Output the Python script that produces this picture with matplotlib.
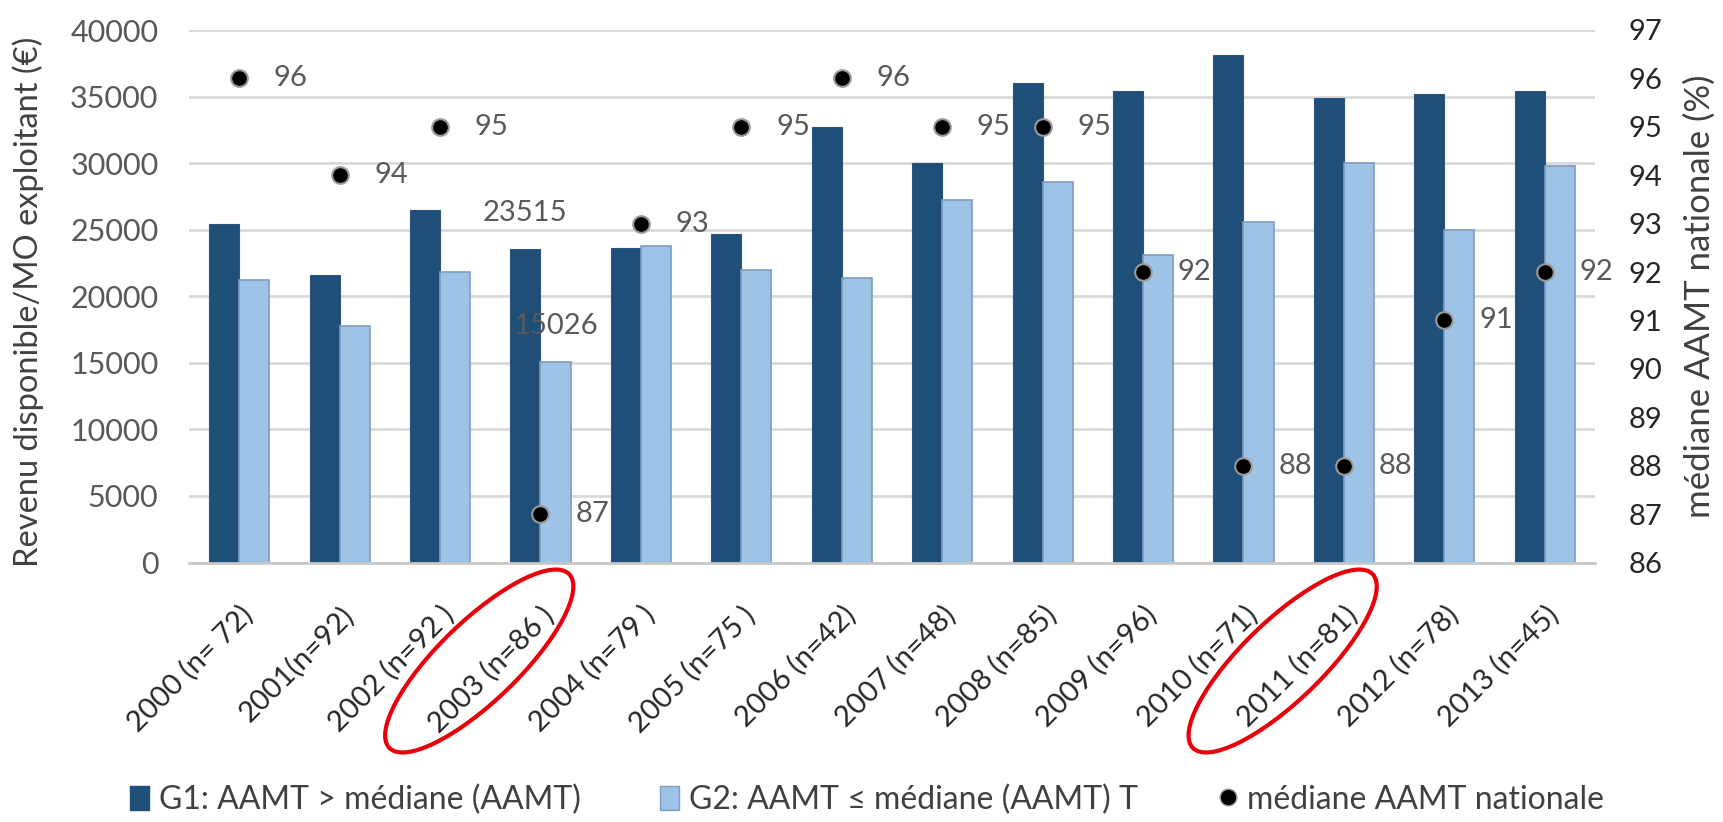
import matplotlib.pyplot as plt
from matplotlib.patches import Patch, Ellipse
from matplotlib.lines import Line2D
from matplotlib.transforms import IdentityTransform
import numpy as np

plt.rcParams['font.family'] = ['Lato', 'DejaVu Sans']

categories = ["2000 (n= 72)", "2001(n=92)", "2002 (n=92 )", "2003 (n=86 )",
              "2004 (n=79 )", "2005 (n=75 )", "2006 (n=42)", "2007 (n=48)",
              "2008 (n=85)", "2009 (n=96)", "2010 (n=71)", "2011 (n=81)",
              "2012 (n=78)", "2013 (n=45)"]
g1 = [25400, 21600, 26500, 23515, 23600, 24700, 32700, 30000,
      36000, 35400, 38100, 34900, 35200, 35400]
g2 = [21200, 17800, 21800, 15026, 23800, 22000, 21400, 27200,
      28600, 23100, 25600, 30000, 25000, 29800]
mediane = [96, 94, 95, 87, 93, 95, 96, 95, 95, 92, 88, 88, 91, 92]
labelled_year = 3          # only 2003 carries bar values
circled_years = [3, 11]

c_g1 = "#1F4E79"
c_g2 = "#9DC3E6"
grey_txt = "#595959"

fig = plt.figure(figsize=(17.24, 8.22), dpi=100)
ax = fig.add_axes([189 / 1724, 1 - 562.5 / 822, 1406 / 1724, 532.5 / 822])
ax2 = ax.twinx()

x = np.arange(len(categories))
w = 0.30
ax.bar(x - w / 2, g1, w, color=c_g1, edgecolor="#2A5580", linewidth=0.8, zorder=2)
ax.bar(x + w / 2, g2, w, color=c_g2, edgecolor="#7F9CBF", linewidth=1.2, zorder=2)

ax.annotate(str(g1[labelled_year]), (labelled_year - w / 2, g1[labelled_year]),
            xytext=(0, 26), textcoords="offset points", ha="center", va="center",
            fontsize=21, color=grey_txt)
ax.annotate(str(g2[labelled_year]), (labelled_year + w / 2, g2[labelled_year]),
            xytext=(0, 26), textcoords="offset points", ha="center", va="center",
            fontsize=21, color=grey_txt)

ax.set_xlim(-0.5, len(categories) - 0.5)
ax.set_ylim(0, 40000)
ax.set_yticks(range(0, 40001, 5000))
ax.yaxis.grid(True, color="#D9D9D9", linewidth=2, zorder=0)
ax.set_axisbelow(True)
for s in ["top", "left", "right"]:
    ax.spines[s].set_visible(False)
    ax2.spines[s].set_visible(False)
ax.spines["bottom"].set_color("#C8C8C8")
ax.spines["bottom"].set_linewidth(2)
ax2.spines["bottom"].set_visible(False)

ax.tick_params(axis="y", length=0, pad=22, labelsize=22, labelcolor=grey_txt)
ax.tick_params(axis="x", length=0, pad=28, labelsize=21, labelcolor="#262626")
ax.set_xticks(x)
ax.set_xticklabels(categories, rotation=45, ha="right", va="top",
                   rotation_mode="anchor")

ax.set_ylabel("Revenu disponible/MO exploitant (€)", fontsize=23.5, color="#404040")
ax.yaxis.label.set_va("center")
ax.yaxis.set_label_coords(-0.1145, 0.49)

# national median on the secondary axis
ax2.plot(x, mediane, linestyle="none", marker="o", markersize=12,
         markerfacecolor="black", markeredgecolor="#9A9A9A",
         markeredgewidth=1.5, zorder=4)
for i, v in enumerate(mediane):
    ax2.annotate(str(v), (i, v), xytext=(25, 0), textcoords="offset points",
                 ha="left", va="center", fontsize=21, color=grey_txt)
ax2.set_ylim(86, 97)
ax2.set_yticks(range(86, 98))
ax2.tick_params(axis="y", length=0, pad=24, labelsize=21, labelcolor="#262626")
ax2.set_ylabel("médiane AAMT nationale (%)", fontsize=25, color="#404040")
ax2.yaxis.label.set_va("center")
ax2.yaxis.set_label_coords(1.0747, 0.50)

# red rings around the highlighted years
for i in circled_years:
    cx, _ = ax.transData.transform((i - 0.61, 0))
    ring = Ellipse((cx, 822 - 661), 250, 80, angle=44, transform=IdentityTransform(),
                   fill=False, edgecolor="#E8000B", linewidth=3)
    fig.patches.append(ring)

# legend entries placed one by one along the bottom
entries = [
    (Patch(facecolor=c_g1, edgecolor=c_g1), "G1: AAMT > médiane (AAMT)", 0.0754),
    (Patch(facecolor=c_g2, edgecolor="#7F9CBF"), "G2: AAMT ≤ médiane (AAMT) T", 0.3828),
    (Line2D([], [], linestyle="none", marker="o", markersize=12,
            markerfacecolor="black", markeredgecolor="#9A9A9A"),
     "médiane AAMT nationale", 0.7067),
]
for handle, text, xpos in entries:
    fig.legend([handle], [text], loc="center left", bbox_to_anchor=(xpos, 0.027),
               frameon=False, fontsize=23, labelcolor="#404040", handlelength=0.6,
               handleheight=0.75, handletextpad=0.3, borderpad=0, borderaxespad=0)

fig.savefig("out.png", dpi=100)
